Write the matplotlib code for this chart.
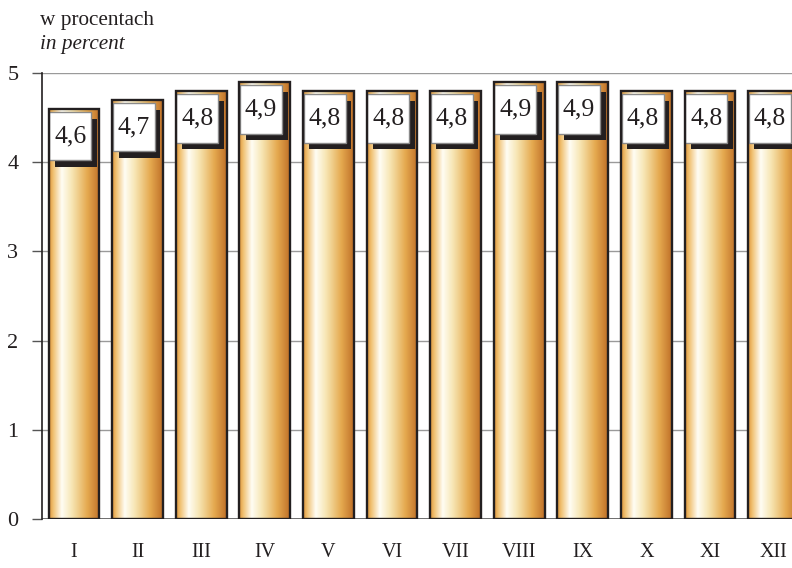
import matplotlib
matplotlib.use("Agg")
import matplotlib.pyplot as plt
import numpy as np
from matplotlib.colors import LinearSegmentedColormap
from matplotlib.patches import Rectangle

months = ["I", "II", "III", "IV", "V", "VI", "VII", "VIII", "IX", "X", "XI", "XII"]
values = [4.6, 4.7, 4.8, 4.9, 4.8, 4.8, 4.8, 4.9, 4.9, 4.8, 4.8, 4.8]
labels = ["4,6", "4,7", "4,8", "4,9", "4,8", "4,8", "4,8", "4,9", "4,9", "4,8", "4,8", "4,8"]
yticks = [0, 1, 2, 3, 4, 5]

plt.rcParams['font.family'] = ['Liberation Serif', 'DejaVu Serif']

fig = plt.figure(figsize=(7.92, 5.68), dpi=100)
ax = fig.add_axes([42/792, 49/568, 1 - 42/792, (519-73)/568])

cmap = LinearSegmentedColormap.from_list("gold", [
    (0.0, (222/255, 148/255, 60/255)),
    (0.08, (240/255, 192/255, 112/255)),
    (0.25, (255/255, 253/255, 244/255)),
    (0.45, (247/255, 230/255, 180/255)),
    (0.75, (229/255, 170/255, 80/255)),
    (1.0, (192/255, 112/255, 40/255)),
])
grad = np.linspace(0, 1, 256).reshape(1, -1)

ax.set_xlim(-0.503, 11.29)
ax.set_ylim(0, 5)

for y in yticks[1:]:
    ax.axhline(y, color="#9a9a9a", lw=1.0, zorder=1)
ax.axhline(0, color="#555555", lw=1.2, zorder=1)

w = 0.8
for i, (v, lab) in enumerate(zip(values, labels)):
    x0 = i - w/2
    ax.imshow(grad, extent=[x0, x0 + w, 0, v], aspect='auto', cmap=cmap,
              zorder=2, interpolation='bilinear')
    ax.add_patch(Rectangle((x0, 0), w, v, fill=False, ec="#231f20", lw=1.7, zorder=4))
    bx0 = i - 0.39
    bw = 0.66
    btop = v - 0.04
    bh = 0.54
    ax.add_patch(Rectangle((bx0 + 0.09, btop - bh - 0.075), bw, bh, fc="#231f20", ec="none", zorder=3))
    ax.add_patch(Rectangle((bx0, btop - bh), bw, bh, fc="white", ec="#8a8a8a", lw=1.0, zorder=3.5))
    ax.text(bx0 + bw/2, btop - bh/2, lab, ha="center", va="center", fontsize=18.5,
            color="#231f20", zorder=5)

ax.set_xticks(range(len(months)))
ax.set_xticklabels(months, fontsize=14.5, color="#231f20")
ax.tick_params(axis='x', length=0, pad=17)
ax.set_yticks(yticks)
ax.set_yticklabels([str(t) for t in yticks], fontsize=16, color="#231f20")
ax.tick_params(axis='y', length=7, width=1.0, color="#555555", pad=10)

for s in ["top", "right", "bottom"]:
    ax.spines[s].set_visible(False)
ax.spines["left"].set_color("#231f20")
ax.spines["left"].set_linewidth(1.2)

fig.text(40/792, 1 - 20/568, "w procentach", fontsize=15.3, va="center", ha="left", color="#231f20")
fig.text(40/792, 1 - 45/568, "in percent", fontsize=15.3, va="center", ha="left",
         style="italic", color="#231f20")

fig.savefig("out.png", dpi=100)
